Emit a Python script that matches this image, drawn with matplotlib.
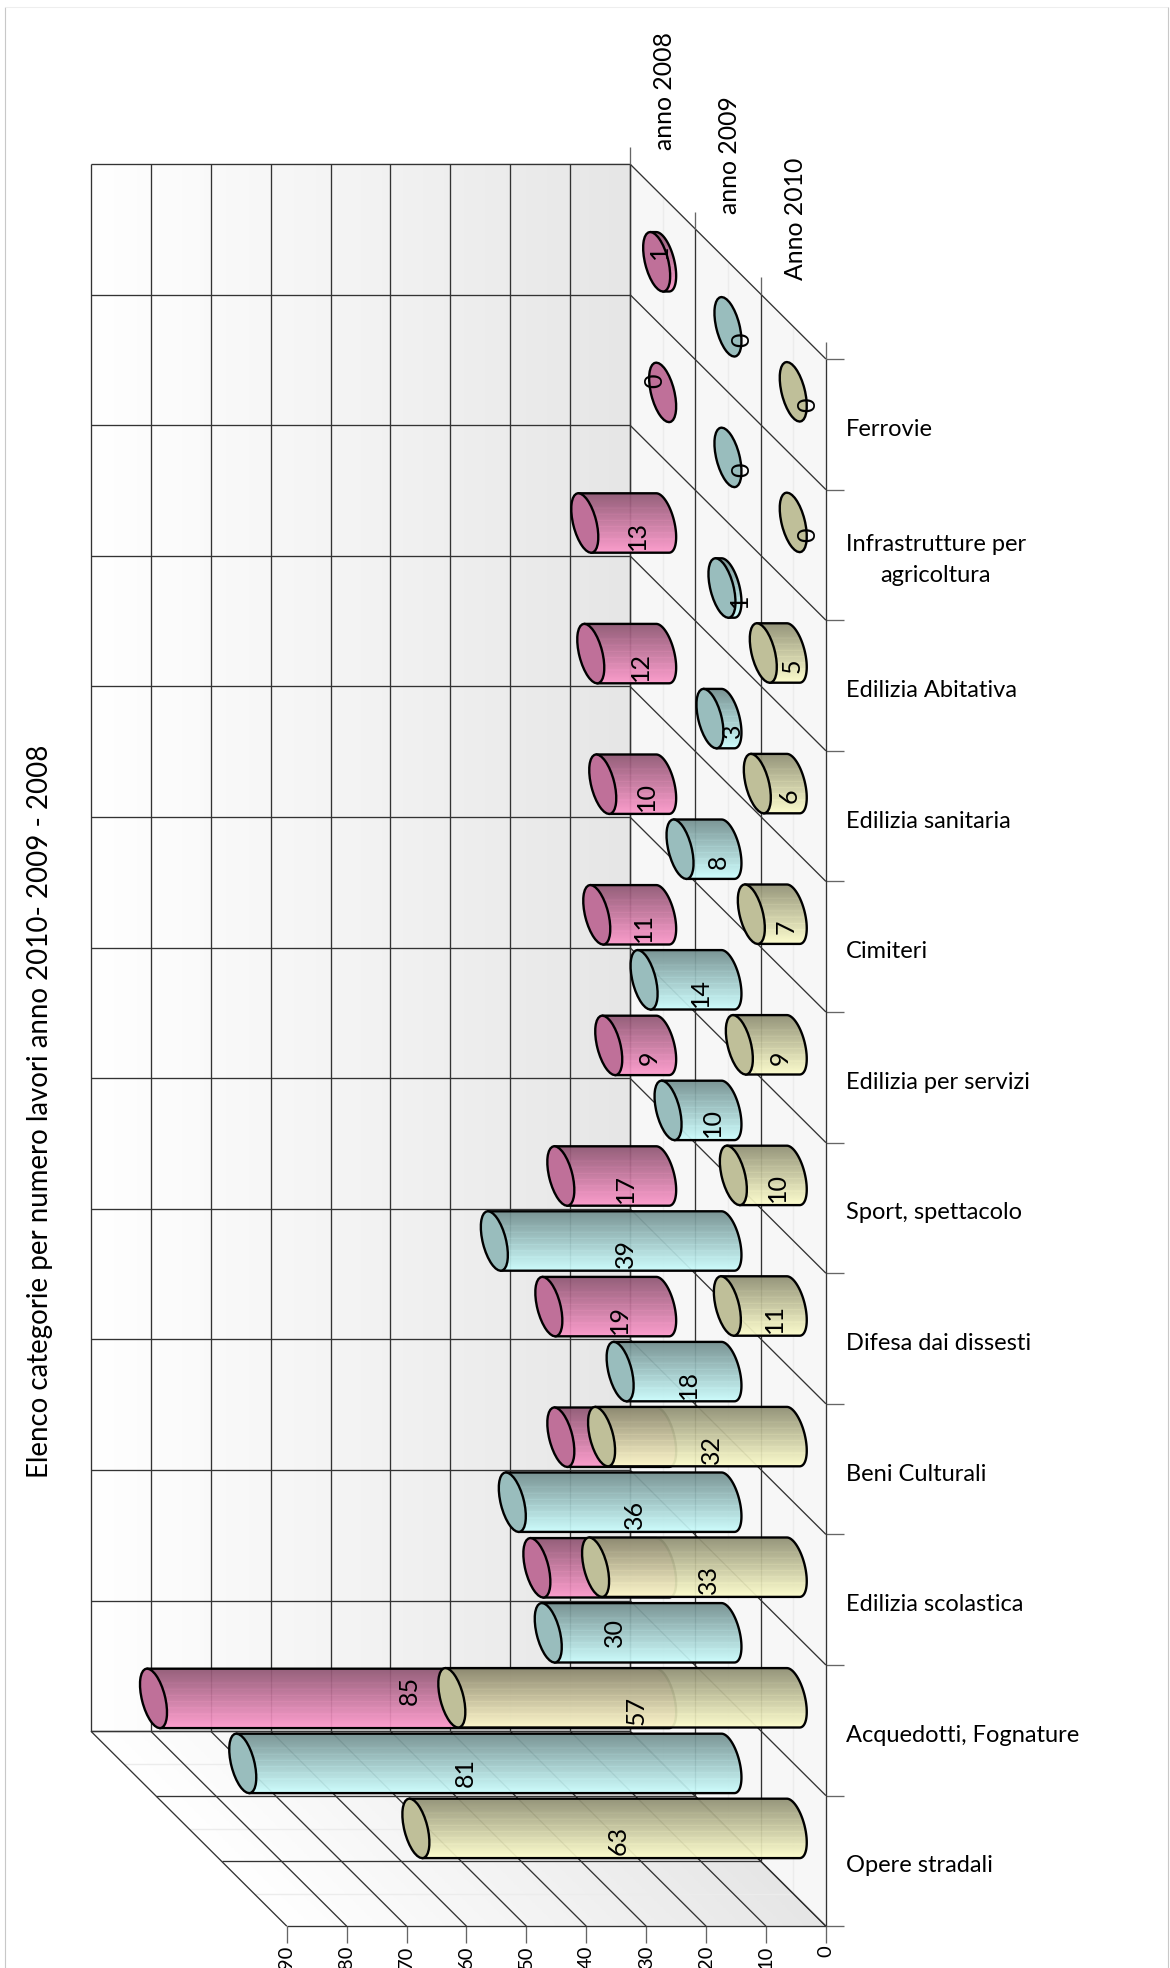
import numpy as np
import matplotlib
matplotlib.use("Agg")
import matplotlib.pyplot as plt
from matplotlib.patches import Polygon, Ellipse
from matplotlib.colors import LinearSegmentedColormap

categories = ["Ferrovie", "Infrastrutture per\nagricoltura", "Edilizia Abitativa", "Edilizia sanitaria",
              "Cimiteri", "Edilizia per servizi", "Sport, spettacolo", "Difesa dai dissesti",
              "Beni Culturali", "Edilizia scolastica", "Acquedotti, Fognature", "Opere stradali"]
series_names = ["anno 2008", "anno 2009", "Anno 2010"]
anno_2008 = [1, 0, 13, 12, 10, 11, 9, 17, 19, 17, 21, 85]
anno_2009 = [0, 0, 1, 3, 8, 14, 10, 39, 18, 36, 30, 81]
anno_2010 = [0, 0, 5, 6, 7, 9, 10, 11, 32, 33, 57, 63]
value_ticks = [0, 10, 20, 30, 40, 50, 60, 70, 80, 90]
title = "Elenco categorie per numero lavori anno 2010- 2009 - 2008"

# projection of the 3-D box onto the page (pixels)
X0, Y0 = 630.0, 164.0      # back wall, value 0, first category edge
UX = 5.99                  # pixels per unit of value (leftwards)
CAT = 130.6                # pixels per category (downwards)
DX, DY = 65.3, 65.0        # one series step in depth
NC, NS, VMAX = 12, 3, 90

def P(v, c, d):
    return X0 + d * DX - v * UX, Y0 + c * CAT + d * DY

plt.rcParams['font.family'] = ['Lato', 'DejaVu Sans']
fig = plt.figure(figsize=(11.7, 19.68), dpi=100)
ax = fig.add_axes([0, 0, 1, 1])
ax.set_axis_off()

GRID = "#333333"
TICK = "#666666"
FAINT = "#ececec"
def line(a, b, color=GRID, lw=0.95, z=2):
    ax.plot([a[0], b[0]], [a[1], b[1]], color=color, lw=lw, zorder=z, solid_capstyle='butt')

wallcm = LinearSegmentedColormap.from_list("w", ["#ffffff", "#f3f3f3", "#e6e6e6"])

# back wall
pts = [P(VMAX, 0, 0), P(0, 0, 0), P(0, NC, 0), P(VMAX, NC, 0)]
grad = np.linspace(0, 1, 256)[None, :]
im = ax.imshow(grad, extent=(pts[0][0], pts[1][0], pts[2][1], pts[0][1]), cmap=wallcm, aspect='auto', zorder=1, vmin=0, vmax=1)
# bottom wall (sheared gradient)
pts = [P(VMAX, NC, 0), P(0, NC, 0), P(0, NC, NS), P(VMAX, NC, NS)]
xs = np.linspace(pts[0][0], pts[2][0], 500)
ys = np.linspace(pts[0][1], pts[2][1], 100)
gx, gy = np.meshgrid(xs, ys)
u = (gx - (gy - Y0 - NC * CAT) * DX / DY - pts[0][0]) / (VMAX * UX)
im = ax.imshow(u, extent=(xs[0], xs[-1], ys[-1], ys[0]), cmap=wallcm, aspect='auto', zorder=1, vmin=0, vmax=1)
poly = Polygon(pts, closed=True, transform=ax.transData, fc='none', ec='none')
ax.add_patch(poly)
im.set_clip_path(poly)
# side floor
ax.add_patch(Polygon([P(0, 0, 0), P(0, 0, NS), P(0, NC, NS), P(0, NC, 0)], closed=True, fc="#f7f7f7", ec='none', zorder=1))

# faint mid-band lines
for d in range(NS):
    line(P(0, 0, d + .5), P(0, NC, d + .5), FAINT, 1.0, 1.5)
    line(P(VMAX, NC, d + .5), P(0, NC, d + .5), FAINT, 1.0, 1.5)
# grid
for v in value_ticks:
    line(P(v, 0, 0), P(v, NC, 0))
    line(P(v, NC, 0), P(v, NC, NS))
    line(P(v, NC, NS), (P(v, NC, NS)[0], P(v, NC, NS)[1] + 17), TICK)
for c in range(NC + 1):
    line(P(VMAX, c, 0), P(0, c, 0))
    line(P(0, c, 0), P(0, c, NS))
    line(P(0, c, NS), (P(0, c, NS)[0] + 18, P(0, c, NS)[1]), TICK)
for d in range(NS + 1):
    line(P(0, 0, d), P(0, NC, d))
    line(P(VMAX, NC, d), P(0, NC, d))
    line(P(0, 0, d), (P(0, 0, d)[0], P(0, 0, d)[1] - 17), TICK)

# cylinders
A, B = 30.5, 11.6
PHI = np.radians(14.2)
def ell(c, t):
    return (c[0] + A * np.sin(PHI) * np.cos(t) + B * np.cos(PHI) * np.sin(t),
            c[1] + A * np.cos(PHI) * np.cos(t) - B * np.sin(PHI) * np.sin(t))
t_bot = np.arctan2(-B * np.sin(PHI), A * np.cos(PHI))
t_top = t_bot + np.pi

BASES = ["#ff99cc", "#ccffff", "#ffffcc"]
DISCS = ["#bf7099", "#99bdbd", "#bfbf99"]
DARK = 0.55
ALPHA = 0.93

def cylinder(v, c, d, base, disc, z):
    b0 = P(0, c + .5, d + .5)
    tip = P(v, c + .5, d + .5)
    rgb = np.array(matplotlib.colors.to_rgb(base))
    if v > 0:
        # right-hand half of the base ellipse, from its top point to its bottom point
        arc = np.linspace(t_top, t_bot, 60)
        bx, by = ell(b0, arc)
        tb = ell(tip, t_bot)
        tt = ell(tip, t_top)
        pts = list(zip(bx, by)) + [tb, tt]
        outline = Polygon(pts, closed=True, fc='none', ec='black', lw=1.7, zorder=z + .2, joinstyle='round')
        clip = Polygon(pts, closed=True, fc='none', ec='none', transform=ax.transData)
        ax.add_patch(clip)
        n = 60
        f = np.linspace(DARK, 1, n)
        # faint horizontal banding of the original gradient
        band = np.where((np.arange(n) % 6 == 3) & (np.arange(n) > 12) & (np.arange(n) < 48), 0.035, 0.0)
        img = np.clip((f + band)[:, None, None] * rgb[None, None, :], 0, 1)
        im = ax.imshow(img, extent=(min(tip[0], b0[0]) - 20, b0[0] + 20, b0[1] + 31, b0[1] - 31),
                       aspect='auto', zorder=z, alpha=ALPHA, interpolation='bilinear')
        im.set_clip_path(clip)
        ax.add_patch(outline)
    ax.add_patch(Ellipse(tip, 2 * B, 2 * A, angle=-np.degrees(PHI), fc=disc, ec='black', lw=1.7, zorder=z + .3))

all_series = [anno_2008, anno_2009, anno_2010]
for d, vals in enumerate(all_series):
    for c, v in enumerate(vals):
        cylinder(v, c, d, BASES[d], DISCS[d], 3 + d)

# data labels (offsets in pixels around the middle of each cylinder)
LABEL_FS = 18
default_off = (14, 12.5)
special_off = {(0, 0): (0, -10), (0, 1): (-7.5, -12), (0, 11): (1, -7.5), (1, 11): (-20, 9), (1, 10): (-24, 0)}
hidden = {(0, 9), (0, 10)}
for d, vals in enumerate(all_series):
    for c, v in enumerate(vals):
        if (d, c) in hidden:
            continue
        mx, my = P(v / 2, c + .5, d + .5)
        ox, oy = special_off.get((d, c), default_off)
        ax.text(mx + ox, my + oy, str(v), rotation=90, ha='center', va='center', fontsize=LABEL_FS, color='black', zorder=20)

# axis texts
for v in value_ticks:
    x, y = P(v, NC, NS)
    ax.text(x, y + 19, str(v), rotation=90, ha='center', va='top', fontsize=14.5, color='black', zorder=20)
for c, name in enumerate(categories):
    x, y = P(0, c + .5, NS)
    ax.text(x + 20, y + 5, name, ha='left', va='center', ma='center', fontsize=17, color='black', linespacing=1.55, zorder=20)
for d, name in enumerate(series_names):
    x, y = P(0, 0, d + .5)
    ax.text(x + 2, y - 47, name, rotation=90, ha='center', va='bottom', fontsize=17.8, color='black', zorder=20)
ax.text(40, 1111, title, rotation=90, ha='center', va='center', fontsize=19.9, color='black', zorder=20)

# outer frame
line((5, 7), (5, 1968), "#c8c8c8", 0.8, 0.5)
line((5, 7), (1168, 7), "#eeeeee", 0.8, 0.5)
line((1168, 7), (1168, 1968), "#c8c8c8", 0.8, 0.5)

ax.set_xlim(0, 1170)
ax.set_ylim(1968, 0)
fig.savefig("out.png", dpi=100, facecolor='white')
